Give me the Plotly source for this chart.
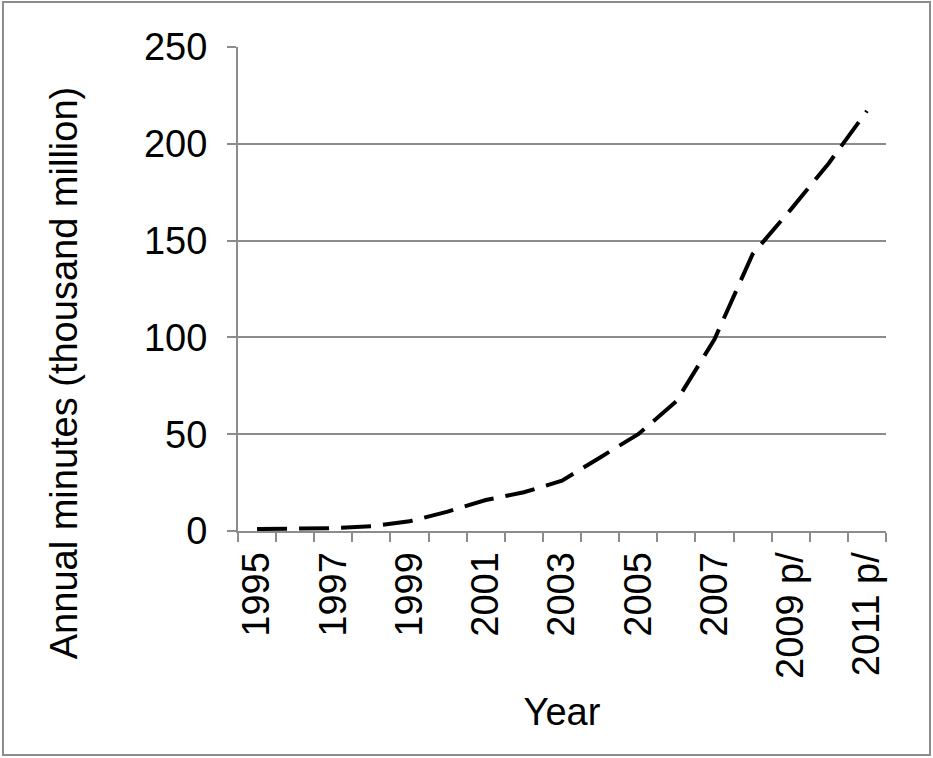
import plotly.graph_objects as go

categories = ["1995", "1996", "1997", "1998", "1999", "2000", "2001", "2002",
              "2003", "2004", "2005", "2006", "2007", "2008", "2009 p/",
              "2010 p/", "2011 p/"]
minutes = [1, 1, 1.5, 2.5, 5, 10, 16, 20, 26, 38, 50, 67, 99, 143, 166, 190, 217]
label_step = 2
y_ticks = [0, 50, 100, 150, 200, 250]
x_title = "Year"
y_title = "Annual minutes (thousand million)"

x_idx = list(range(len(categories)))
tick_idx = x_idx[::label_step]
tick_text = [categories[i] for i in tick_idx]
boundaries = [i - 0.5 for i in range(len(categories) + 1)]

GRAY = "#8c8c8c"
FONT = "Liberation Sans, Arial, sans-serif"
FS = 38

fig = go.Figure()
fig.add_trace(go.Scatter(
    x=x_idx, y=minutes, mode="lines",
    line=dict(color="black", width=4, dash="30px,12px"),
    showlegend=False, hoverinfo="skip",
))

fig.update_layout(
    width=933, height=758,
    margin=dict(l=238, r=47, t=47, b=227),
    paper_bgcolor="white", plot_bgcolor="white",
    font=dict(family=FONT, size=FS, color="black"),
    showlegend=False,
    shapes=[dict(type="rect", xref="paper", yref="paper",
                 x0=-0.3627, x1=1.0679, y0=-0.4628, y1=1.0930,
                 line=dict(color=GRAY, width=2), layer="below")],
    annotations=[dict(text=y_title, textangle=-90, showarrow=False,
                      xref="paper", yref="paper", x=-0.2685, y=0.326,
                      xanchor="center", yanchor="middle",
                      font=dict(size=FS, family=FONT, color="black"))],
)

fig.update_xaxes(
    range=[-0.5, len(categories) - 0.5],
    tickmode="array", tickvals=tick_idx, ticktext=tick_text,
    tickangle=-90, ticks="", showgrid=False, zeroline=False,
    showline=True, linecolor=GRAY, linewidth=2,
    tickfont=dict(size=FS, family=FONT, color="black"),
    ticklabelstandoff=4,
    minor=dict(tickmode="array", tickvals=boundaries, ticks="outside",
               ticklen=9, tickwidth=2, tickcolor=GRAY, showgrid=False),
    title=dict(text=x_title, font=dict(size=FS, family=FONT), standoff=20),
)

fig.update_yaxes(
    range=[0, 250], tickmode="array", tickvals=y_ticks,
    showgrid=True, gridcolor=GRAY, gridwidth=2, zeroline=False,
    showline=True, linecolor=GRAY, linewidth=2,
    ticks="outside", ticklen=9, tickwidth=2, tickcolor=GRAY,
    tickfont=dict(size=FS, family=FONT, color="black"),
    ticklabelstandoff=12,
)

fig.write_html("out.html", config={"displayModeBar": False},
               post_script="document.body.style.margin='0';")
